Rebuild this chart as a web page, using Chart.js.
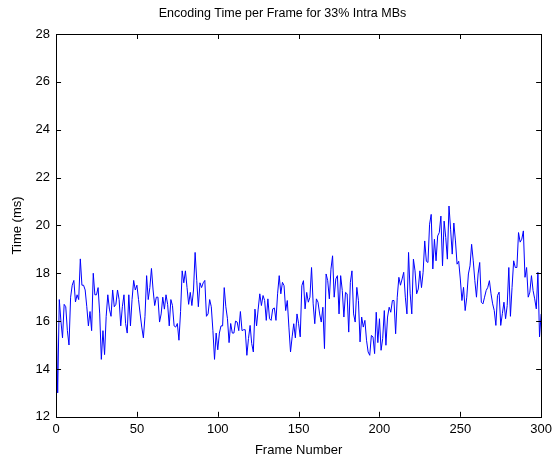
<!DOCTYPE html>
<html>
<head>
<meta charset="utf-8">
<script src="https://cdn.jsdelivr.net/npm/chart.js@4/dist/chart.umd.min.js"></script>
<style>
  html, body { margin: 0; padding: 0; background: #fff; }
  #wrap { width: 557px; height: 458px; }
</style>
</head>
<body>
<div id="wrap"><canvas id="timeChart"></canvas></div>
<script>
// encoding time (ms) for frames 0..300
var encodeTimes = [
  16.6, 13.0, 16.9, 16.0, 15.3, 16.7, 16.6, 15.6, 15.0, 17.0,
  17.5, 17.7, 16.8, 17.1, 16.9, 18.6, 17.5, 17.5, 17.3, 16.6,
  15.8, 16.4, 15.6, 18.0, 17.1, 17.1, 17.4, 16.3, 14.4, 15.6,
  14.6, 16.2, 17.1, 16.5, 16.2, 17.3, 16.6, 16.7, 17.3, 16.9,
  15.8, 16.6, 17.1, 15.9, 15.5, 17.1, 15.8, 16.9, 17.7, 17.3,
  17.5, 16.9, 16.3, 15.75, 15.3, 16.2, 17.9, 16.9, 17.4, 18.2,
  17.3, 16.65, 17.0, 17.0, 15.96, 16.3, 17.0, 16.5, 17.1, 16.7,
  15.8, 16.9, 16.65, 15.8, 15.75, 15.9, 15.2, 16.4, 18.1, 17.6,
  18.1, 17.4, 16.7, 17.2, 16.65, 17.3, 18.87, 17.7, 16.6, 17.6,
  17.4, 17.6, 17.7, 16.2, 16.3, 16.9, 16.6, 15.6, 14.4, 15.5,
  14.8, 15.5, 15.8, 15.8, 17.4, 16.6, 16.1, 15.1, 15.9, 15.5,
  15.5, 16.0, 15.96, 15.6, 16.4, 15.6, 15.64, 15.64, 14.57, 15.27,
  15.82, 15.06, 14.71, 16.5, 15.8, 16.5, 17.14, 16.65, 17.07, 16.86,
  16.03, 16.93, 16.1, 16.03, 16.51, 16.55, 16.03, 17.14, 17.9, 17.14,
  17.62, 17.48, 16.44, 16.86, 15.75, 14.71, 15.34, 15.89, 15.3, 16.3,
  15.89, 15.34, 17.48, 17.69, 16.51, 17.2, 16.79, 17.0, 18.24, 16.72,
  15.89, 16.93, 16.79, 16.3, 15.96, 16.58, 14.85, 17.97, 17.69, 16.93,
  18.17, 18.73, 17.0, 17.76, 17.9, 16.3, 17.9, 17.28, 16.17, 17.2,
  17.14, 15.54, 17.62, 18.1, 16.3, 15.96, 17.41, 16.86, 15.13, 16.17,
  15.75, 16.03, 15.2, 14.71, 14.57, 15.4, 15.34, 14.64, 16.37, 15.1,
  16.1, 14.78, 15.27, 16.44, 14.99, 16.17, 16.58, 16.37, 16.86, 16.86,
  15.47, 17.0, 17.83, 17.5, 17.76, 18.04, 17.0, 16.3, 18.87, 17.14,
  16.3, 18.59, 18.1, 17.14, 17.34, 18.1, 17.4, 18.04, 19.35, 18.5,
  18.45, 20.05, 20.46, 18.18, 19.42, 18.52, 19.56, 19.7, 20.39, 18.31,
  20.18, 19.49, 18.59, 20.81, 19.84, 18.8, 20.1, 19.35, 18.38, 18.5,
  17.76, 16.86, 17.41, 16.44, 17.0, 17.97, 18.31, 19.21, 18.52, 17.69,
  17.0, 17.97, 18.45, 16.79, 16.72, 17.0, 17.28, 17.41, 17.69, 17.14,
  16.72, 16.44, 15.82, 17.07, 17.21, 15.82, 16.31, 16.79, 16.1, 16.65,
  18.24, 16.2, 17.41, 18.52, 18.24, 18.24, 19.7, 19.3, 19.42, 19.77,
  17.83, 18.24, 17.0, 17.21, 17.9, 17.28, 16.93, 16.51, 18.04, 15.34,
  16.3
];
var frameNumbers = encodeTimes.map(function (v, i) { return i; });
var xTicks = [0, 50, 100, 150, 200, 250, 300];
var yTicks = [12, 14, 16, 18, 20, 22, 24, 26, 28];

var points = frameNumbers.map(function (f, i) { return { x: f, y: encodeTimes[i] }; });

// matlab style box with inward ticks on all four sides
var boxPlugin = {
  id: 'matlabBox',
  afterDraw: function (chart) {
    var c = chart.ctx, a = chart.chartArea;
    var xs = chart.scales.x, ys = chart.scales.y;
    c.save();
    c.strokeStyle = '#000';
    c.lineWidth = 1;
    c.strokeRect(Math.round(a.left) + 0.5, Math.round(a.top) + 0.5,
                 Math.round(a.right - a.left), Math.round(a.bottom - a.top));
    c.beginPath();
    xTicks.forEach(function (t) {
      var px = Math.round(xs.getPixelForValue(t)) + 0.5;
      c.moveTo(px, a.bottom); c.lineTo(px, a.bottom - 5);
      c.moveTo(px, a.top); c.lineTo(px, a.top + 5);
    });
    yTicks.forEach(function (t) {
      var py = Math.round(ys.getPixelForValue(t)) + 0.5;
      c.moveTo(a.left, py); c.lineTo(a.left + 5, py);
      c.moveTo(a.right, py); c.lineTo(a.right - 5, py);
    });
    c.stroke();
    c.restore();
  }
};

var font = { family: '"Liberation Sans", Arial, sans-serif', size: 13 };

new Chart(document.getElementById('timeChart'), {
  type: 'scatter',
  data: {
    datasets: [{
      data: points,
      showLine: true,
      borderColor: '#0000ff',
      borderWidth: 1,
      pointRadius: 0,
      tension: 0
    }]
  },
  options: {
    responsive: true,
    maintainAspectRatio: false,
    animation: false,
    layout: { padding: { left: 10, right: 2, top: 0, bottom: 0 } },
    plugins: {
      legend: { display: false },
      tooltip: { enabled: false },
      title: {
        display: true,
        text: 'Encoding Time per Frame for 33% Intra MBs',
        color: '#000',
        font: { family: font.family, size: 12.5, weight: 'normal' },
        padding: { top: 6, bottom: 13 }
      }
    },
    scales: {
      x: {
        type: 'linear',
        min: 0,
        max: 300,
        afterBuildTicks: function (s) { s.ticks = xTicks.map(function (v) { return { value: v }; }); },
        grid: { display: false, drawTicks: false },
        border: { display: false },
        ticks: { color: '#000', font: font, padding: 5, maxRotation: 0 },
        title: { display: true, text: 'Frame Number', color: '#000', font: font, padding: { top: 0, bottom: 0 } }
      },
      y: {
        min: 12,
        max: 28,
        afterBuildTicks: function (s) { s.ticks = yTicks.map(function (v) { return { value: v }; }); },
        grid: { display: false, drawTicks: false },
        border: { display: false },
        ticks: { color: '#000', font: font, padding: 6 },
        title: { display: true, text: 'Time (ms)', color: '#000', font: font, padding: { top: 0, bottom: 4 } }
      }
    }
  },
  plugins: [boxPlugin]
});
</script>
</body>
</html>
